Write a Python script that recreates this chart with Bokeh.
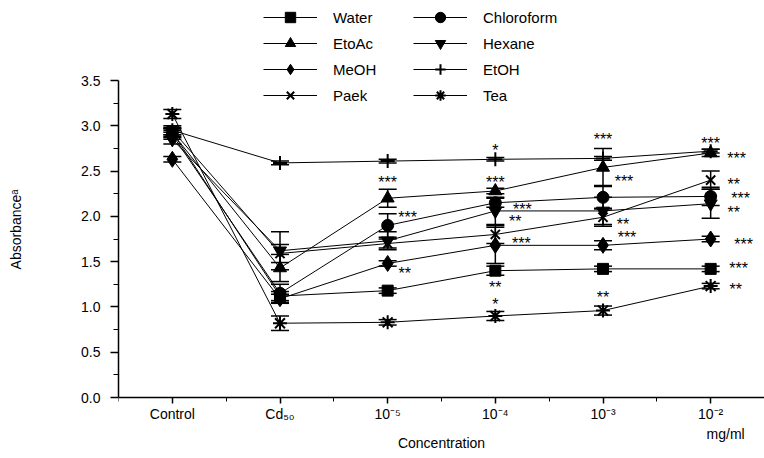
from bokeh.plotting import figure
from bokeh.models import (ColumnDataSource, Whisker, TeeHead, Legend, LegendItem,
                          FixedTicker, Label, NumeralTickFormatter, Range1d)
from bokeh.embed import file_html
from bokeh.resources import INLINE
from bokeh.core.properties import value

# ---------------- data ----------------
categories = ["Control", "Cd₅₀", "10⁻⁵", "10⁻⁴", "10⁻³", "10⁻²"]
x_pos = [1, 2, 3, 4, 5, 6]

water      = [2.93, 1.12, 1.18, 1.40, 1.42, 1.42]
chloroform = [2.90, 1.15, 1.90, 2.15, 2.21, 2.22]
etoac      = [2.92, 1.43, 2.20, 2.28, 2.54, 2.70]
hexane     = [2.85, 1.62, 1.73, 2.06, 2.06, 2.14]
meoh       = [2.63, 1.09, 1.48, 1.68, 1.68, 1.75]
etoh       = [2.95, 2.59, 2.61, 2.63, 2.64, 2.72]
paek       = [2.95, 1.59, 1.70, 1.80, 1.99, 2.40]
tea        = [3.13, 0.82, 0.83, 0.90, 0.96, 1.23]

water_err      = [0.05, 0.05, 0.03, 0.05, 0.03, 0.03]
chloroform_err = [0.05, 0.10, 0.13, 0.05, 0.13, 0.10]
etoac_err      = [0.05, 0.15, 0.10, 0.03, 0.21, 0.04]
hexane_err     = [0.05, 0.21, 0.10, 0.15, 0.15, 0.16]
meoh_err       = [0.03, 0.05, 0.03, 0.20, 0.05, 0.03]
etoh_err       = [0.02, 0.02, 0.02, 0.02, 0.02, 0.02]
paek_err       = [0.05, 0.10, 0.05, 0.10, 0.10, 0.10]
tea_err        = [0.05, 0.08, 0.03, 0.05, 0.05, 0.03]

series_names = ["Water", "Chloroform", "EtoAc", "Hexane", "MeOH", "EtOH", "Paek", "Tea"]
series_values = [water, chloroform, etoac, hexane, meoh, etoh, paek, tea]
series_errors = [water_err, chloroform_err, etoac_err, hexane_err,
                 meoh_err, etoh_err, paek_err, tea_err]

y_ticks = [0, 0.5, 1, 1.5, 2, 2.5, 3, 3.5]
y_minor = [0.25, 0.75, 1.25, 1.75, 2.25, 2.75, 3.25]

# significance marks: (series, column index, text)
sig_marks = [
    ("EtoAc", 2, "***"), ("Chloroform", 2, "***"), ("MeOH", 2, "**"),
    ("EtOH", 3, "*"), ("EtoAc", 3, "***"), ("Chloroform", 3, "***"),
    ("Hexane", 3, "**"), ("Paek", 3, "***"), ("Water", 3, "**"), ("Tea", 3, "*"),
    ("EtoAc", 4, "***"), ("EtoAc", 4, "***"), ("Paek", 4, "**"), ("MeOH", 4, "***"),
    ("Tea", 4, "**"),
    ("EtOH", 5, "***"), ("EtoAc", 5, "***"), ("Paek", 5, "**"), ("Chloroform", 5, "***"),
    ("Hexane", 5, "**"), ("MeOH", 5, "***"), ("Water", 5, "***"), ("Tea", 5, "**"),
]
# pixel offsets for each mark (style, not data)
sig_offsets = [
    (0, -20), (20, -12), (17, 6),
    (0, -13), (0, -12), (27, 3), (20, 7), (26, 5), (0, 13), (0, -15),
    (0, -32), (21, 10), (20, 3), (24, -12), (0, -17),
    (0, -12), (26, 2), (23, 0), (30, -2), (23, 5), (33, 1), (28, -4), (25, -1),
]

# ---------------- layout / styles ----------------
W, H = 764, 458
AXIS_LEFT = 118          # px of the y axis
Y_TOP_PX, Y_ZERO_PX = 80, 397   # px of the top tick and of the x axis
px_per_unit = (Y_ZERO_PX - Y_TOP_PX) / max(y_ticks)
y_start = -(H - Y_ZERO_PX) / px_per_unit
y_end = Y_ZERO_PX / px_per_unit

markers = {"Water": ("square", 11), "Chloroform": ("circle", 12), "EtoAc": ("triangle", 13),
           "Hexane": ("inverted_triangle", 13), "MeOH": ("diamond", 16), "EtOH": ("cross", 14),
           "Paek": ("x", 13), "Tea": ("asterisk", 14)}
FONT = "Liberation Sans"

p = figure(width=W, height=H, output_backend="svg", toolbar_location=None,
           x_range=Range1d(0.5, 6.5), y_range=Range1d(y_start, y_end),
           min_border_left=AXIS_LEFT, min_border_right=0, min_border_top=0, min_border_bottom=0)
p.xgrid.visible = False
p.ygrid.visible = False
p.outline_line_color = None
p.background_fill_color = "white"

renderers = {}
for name, vals, errs in zip(series_names, series_values, series_errors):
    src = ColumnDataSource(dict(x=x_pos, y=vals,
                                upper=[v + e for v, e in zip(vals, errs)],
                                lower=[v - e for v, e in zip(vals, errs)]))
    w = Whisker(source=src, base="x", upper="upper", lower="lower", dimension="height",
                line_color="black", line_width=1.5,
                upper_head=TeeHead(size=18, line_color="black", line_width=1.5),
                lower_head=TeeHead(size=18, line_color="black", line_width=1.5))
    p.add_layout(w)
    ln = p.line("x", "y", source=src, line_color="black", line_width=1)
    m, s = markers[name]
    sc = p.scatter("x", "y", source=src, marker=m, size=s, fill_color="black",
                   line_color="black", line_width=2 if m in ("cross", "x", "asterisk") else 1)
    renderers[name] = [ln, sc]

# significance annotations
lookup = dict(zip(series_names, series_values))
sig_src = ColumnDataSource(dict(
    x=[x_pos[c] for _, c, _ in sig_marks],
    y=[lookup[s][c] for s, c, _ in sig_marks],
    t=[t for _, _, t in sig_marks],
    dx=[o[0] for o in sig_offsets],
    dy=[o[1] + 4 for o in sig_offsets],
))
p.text(x="x", y="y", text="t", source=sig_src, x_offset="dx", y_offset="dy",
       text_align="center", text_baseline="middle", text_font=value(FONT),
       text_font_size="16px", text_color="black")

# legend: two columns filled column by column
legend_order = ["Water", "EtoAc", "MeOH", "Paek", "Chloroform", "Hexane", "EtOH", "Tea"]
legend_items = [LegendItem(label=n, renderers=renderers[n]) for n in legend_order]
legend = Legend(items=legend_items, ncols=2, location=(145, H - 108),
                glyph_width=54, glyph_height=26, label_height=26, label_width=80,
                label_standoff=16, spacing=0, padding=0, margin=0,
                border_line_color=None, background_fill_alpha=0,
                label_text_font=FONT, label_text_font_size="15px", label_text_color="black")
p.add_layout(legend, "center")

# axes
p.xaxis.fixed_location = 0
p.xaxis.ticker = FixedTicker(ticks=x_pos, minor_ticks=[0.5, 1.5, 2.5, 3.5, 4.5, 5.5])
p.xaxis.major_label_overrides = {x: c for x, c in zip(x_pos, categories)}
p.yaxis.ticker = FixedTicker(ticks=y_ticks, minor_ticks=y_minor)
p.yaxis.bounds = (0, max(y_ticks))
p.yaxis.formatter = NumeralTickFormatter(format="0.0")

for ax in (p.xaxis, p.yaxis):
    ax.axis_line_color = "black"
    ax.axis_line_width = 1.5
    ax.major_tick_line_color = "black"
    ax.minor_tick_line_color = "black"
    ax.major_tick_line_width = 1.5
    ax.minor_tick_line_width = 1
    ax.major_tick_in = 0
    ax.minor_tick_in = 0
    ax.major_label_text_font = FONT
    ax.major_label_text_font_size = "14px"
    ax.major_label_text_color = "black"
    ax.axis_label_text_font = FONT
    ax.axis_label_text_font_size = "14px"
    ax.axis_label_text_font_style = "normal"
    ax.axis_label_text_color = "black"

p.xaxis.major_tick_out = 6
p.xaxis.minor_tick_out = 4
p.xaxis.major_label_standoff = 2
p.xaxis.axis_label = "Concentration"
p.xaxis.axis_label_standoff = 10

p.yaxis.major_tick_out = 8
p.yaxis.minor_tick_out = 5
p.yaxis.major_label_standoff = 10
p.yaxis.axis_label = "Absorbanceᵃ"
p.yaxis.axis_label_standoff = 54

p.add_layout(Label(x=6, y=0, x_units="data", y_units="data", text="mg/ml",
                   x_offset=15, y_offset=-36, text_align="center", text_baseline="middle",
                   text_font=FONT, text_font_size="14px", text_color="black"))

open("out.html", "w").write(file_html(p, INLINE))
